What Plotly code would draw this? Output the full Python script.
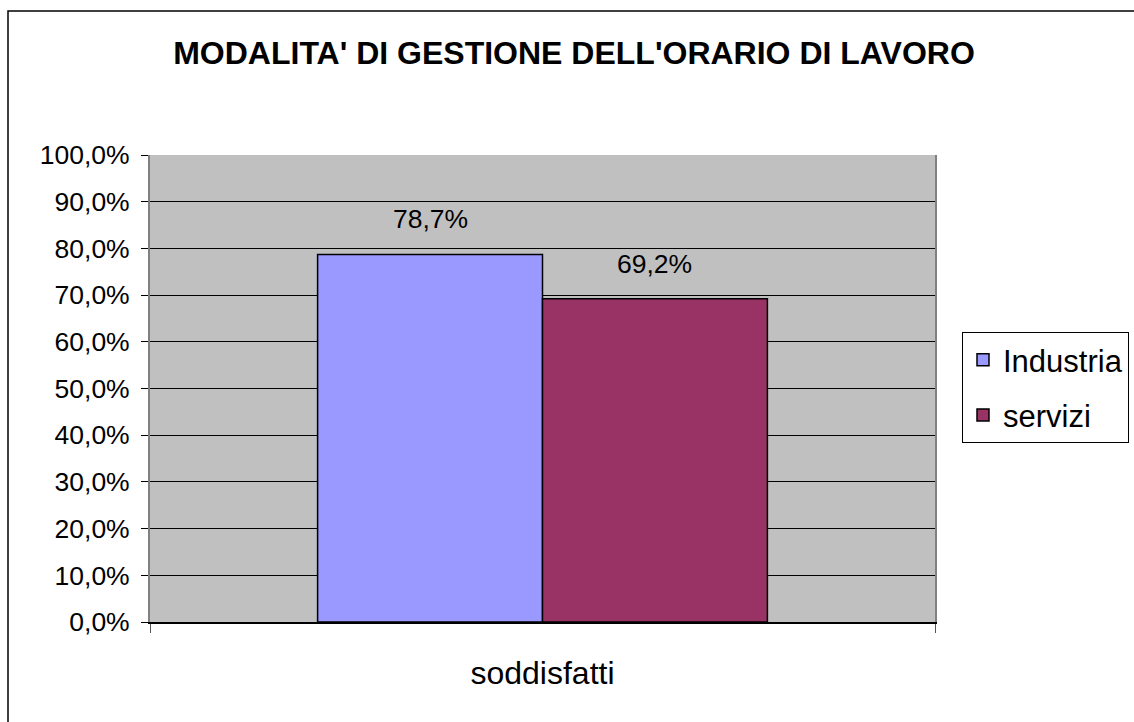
import plotly.graph_objects as go

categories = ["soddisfatti"]
series_names = ["Industria", "servizi"]
industria = [0.787]
servizi = [0.692]
series_colors = ["#9999FF", "#993366"]
y_ticks = [0, 0.1, 0.2, 0.3, 0.4, 0.5, 0.6, 0.7, 0.8, 0.9, 1.0]

W, H = 1134, 722
L, R, T, B = 150, W - 935, 155, H - 622
plot_w = W - L - R
plot_h = H - T - B
bargap = 0.427
FONT = "Liberation Sans, Arial, sans-serif"

fig = go.Figure()
for name, vals, col in zip(series_names, [industria, servizi], series_colors):
    fig.add_trace(go.Bar(
        x=categories, y=vals, name=name,
        marker=dict(color=col, line=dict(color="black", width=1.5)),
        legendgroup=name,
    ))

# data labels above bars
bar_px = plot_w * (1 - bargap) / len(series_names)
for i, vals in enumerate([industria, servizi]):
    shift = (i - (len(series_names) - 1) / 2) * bar_px
    for c, v in zip(categories, vals):
        fig.add_annotation(
            x=c, y=v, xref="x", yref="y", xshift=shift, yshift=35,
            text=f"{v*100:.1f}%".replace(".", ","), showarrow=False,
            font=dict(family=FONT, size=26.5, color="black"),
        )

# outer chart border
fig.add_shape(type="rect", xref="paper", yref="paper",
              x0=(8 - L) / plot_w, x1=1.5, y0=-0.5,
              y1=(plot_h + T - 11) / plot_h,
              line=dict(color="black", width=1.5), fillcolor="rgba(0,0,0,0)", layer="below")

fig.update_layout(
    width=W, height=H,
    margin=dict(l=L, r=R, t=T, b=B, autoexpand=False),
    paper_bgcolor="white",
    plot_bgcolor="#C0C0C0",
    separators=",.",
    barmode="group",
    bargap=bargap,
    bargroupgap=0,
    font=dict(family=FONT, color="black"),
    title=dict(text="<b>MODALITA' DI GESTIONE DELL'ORARIO DI LAVORO</b>",
               x=574 / W, xanchor="center", y=1 - 53 / H, yanchor="middle",
               xref="container", yref="container",
               font=dict(family=FONT, size=32, color="black")),
    legend=dict(
        x=(962 - L) / plot_w, xanchor="left",
        y=(plot_h - (332 - T)) / plot_h, yanchor="top",
        bordercolor="black", borderwidth=1, bgcolor="white",
        font=dict(family=FONT, size=31, color="black"),
        tracegroupgap=12, traceorder="grouped",
        itemwidth=30,
    ),
    showlegend=True,
)
fig.update_xaxes(
    type="category", range=[-0.5, 0.5], automargin=False,
    showline=True, linecolor="black", linewidth=1.5,
    ticks="outside", tickson="boundaries", ticklen=9, tickcolor="#555555",
    ticklabelstandoff=22,
    tickfont=dict(family=FONT, size=32, color="black"),
    showgrid=False,
)
fig.update_yaxes(
    range=[0, 1], tickvals=y_ticks, tickformat=".1%", automargin=False,
    showline=True, linecolor="#808080", linewidth=2, mirror=True,
    ticks="outside", ticklen=7, tickcolor="black",
    ticklabelstandoff=6,
    showgrid=True, gridcolor="black", gridwidth=1,
    tickfont=dict(family=FONT, size=26.5, color="black"),
    zeroline=False,
)

fig.write_html(
    "out.html",
    config={"displayModeBar": False},
    post_script="document.body.style.margin='0';document.body.style.overflow='hidden';",
)
